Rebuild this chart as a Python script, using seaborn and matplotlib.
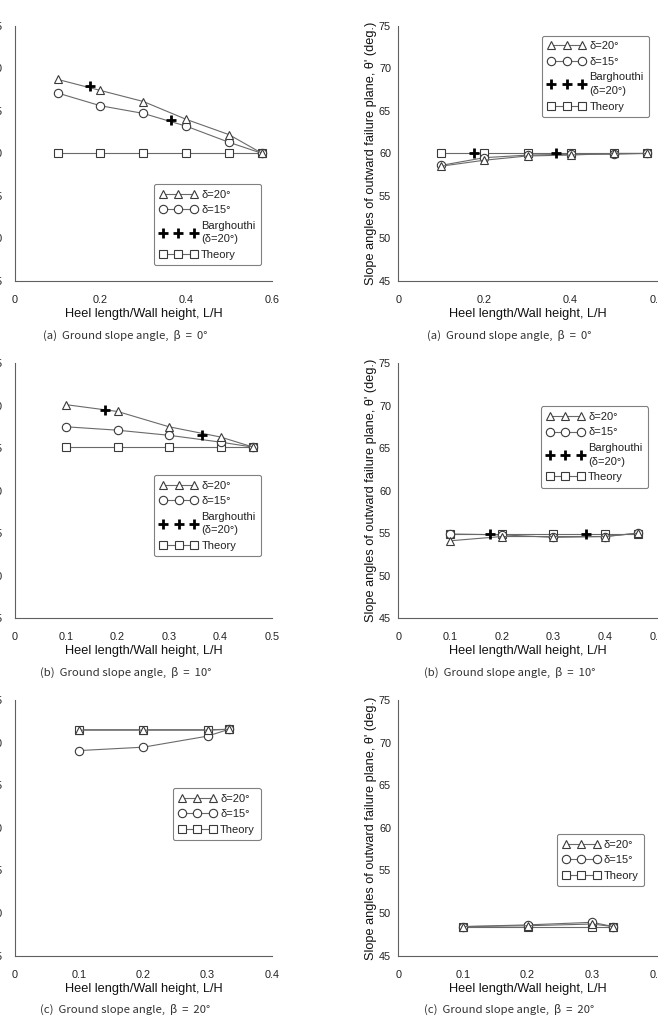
import numpy as np
import pandas as pd
import matplotlib
matplotlib.use("Agg")
import matplotlib.pyplot as plt
import seaborn as sns

# ---------------- data ----------------
# (a) beta = 0
x_a = [0.1, 0.2, 0.3, 0.4, 0.5, 0.577]
left_a_d20 = [68.7, 67.4, 66.1, 64.0, 62.2, 60.0]
left_a_d15 = [67.1, 65.6, 64.7, 63.2, 61.3, 60.0]
left_a_theory = [60.0, 60.0, 60.0, 60.0, 60.0, 60.0]
left_a_bar_x = [0.175, 0.364]
left_a_bar = [67.9, 63.9]
right_a_d20 = [58.5, 59.2, 59.7, 59.8, 60.0, 60.0]
right_a_d15 = [58.6, 59.5, 59.8, 59.9, 59.9, 60.0]
right_a_theory = [60.0, 60.0, 60.0, 60.0, 60.0, 60.0]
right_a_bar_x = [0.176, 0.366]
right_a_bar = [60.0, 60.0]

# (b) beta = 10
x_b = [0.1, 0.2, 0.3, 0.4, 0.464]
left_b_d20 = [70.1, 69.3, 67.5, 66.3, 65.1]
left_b_d15 = [67.5, 67.1, 66.5, 65.7, 65.1]
left_b_theory = [65.1, 65.1, 65.1, 65.1, 65.1]
left_b_bar_x = [0.176, 0.364]
left_b_bar = [69.5, 66.5]
right_b_d20 = [54.1, 54.6, 54.6, 54.6, 55.0]
right_b_d15 = [54.9, 54.8, 54.5, 54.6, 55.0]
right_b_theory = [54.9, 54.9, 54.9, 54.9, 54.9]
right_b_bar_x = [0.177, 0.363]
right_b_bar = [54.9, 54.9]

# (c) beta = 20
x_c = [0.1, 0.2, 0.3, 0.333]
left_c_d20 = [71.5, 71.5, 71.5, 71.6]
left_c_d15 = [69.1, 69.5, 70.8, 71.6]
left_c_theory = [71.55, 71.55, 71.55, 71.6]
right_c_d20 = [48.4, 48.5, 48.7, 48.4]
right_c_d15 = [48.4, 48.6, 48.9, 48.4]
right_c_theory = [48.4, 48.4, 48.4, 48.4]

xmax = [0.6, 0.5, 0.4]
xmajor = [0.2, 0.1, 0.1]
captions = ["(a)  Ground slope angle,  \u03b2  =  0\u00b0",
            "(b)  Ground slope angle,  \u03b2  =  10\u00b0",
            "(c)  Ground slope angle,  \u03b2  =  20\u00b0"]
lab_d20 = "\u03b4=20\u00b0"
lab_d15 = "\u03b4=15\u00b0"
lab_bar = "Barghouthi\n(\u03b4=20\u00b0)"
lab_th = "Theory"
xlabel = "Heel length/Wall height, L/H"
ylabel = "Slope angles of outward failure plane, \u03b8' (deg.)"

# ---------------- style ----------------
sns.set_style("white")
plt.rcParams['font.family'] = ['Liberation Sans', 'DejaVu Sans']

W, H = 658, 1025
fig = plt.figure(figsize=(W / 100, H / 100), dpi=100)

LINE_C = '#6a6a6a'
EDGE_C = '#3a3a3a'
AX_C = '#606060'

def px_axes(x0, x1, ytop, ybot):
    return fig.add_axes([x0 / W, 1 - ybot / H, (x1 - x0) / W, (ybot - ytop) / H])

rows_y = [(25.8, 281.0), (363.0, 618.2), (700.4, 955.5)]
left_x = (14.7, 272.0)
right_x = (398.3, 656.7)

panels = [
    # left column
    dict(col=0, row=0, x=x_a, d20=left_a_d20, d15=left_a_d15, th=left_a_theory,
         bx=left_a_bar_x, by=left_a_bar, leg=(0.541, 0.38)),
    dict(col=0, row=1, x=x_b, d20=left_b_d20, d15=left_b_d15, th=left_b_theory,
         bx=left_b_bar_x, by=left_b_bar, leg=(0.542, 0.561)),
    dict(col=0, row=2, x=x_c, d20=left_c_d20, d15=left_c_d15, th=left_c_theory,
         bx=None, by=None, leg=(0.615, 0.656)),
    # right column
    dict(col=1, row=0, x=x_a, d20=right_a_d20, d15=right_a_d15, th=right_a_theory,
         bx=right_a_bar_x, by=right_a_bar, leg=(0.557, 0.961)),
    dict(col=1, row=1, x=x_b, d20=right_b_d20, d15=right_b_d15, th=right_b_theory,
         bx=right_b_bar_x, by=right_b_bar, leg=(0.552, 0.83)),
    dict(col=1, row=2, x=x_c, d20=right_c_d20, d15=right_c_d15, th=right_c_theory,
         bx=None, by=None, leg=(0.613, 0.476)),
]

mk = dict(color=LINE_C, linewidth=0.8, markersize=6.0,
          markerfacecolor='white', markeredgecolor=EDGE_C, markeredgewidth=0.8)

for p in panels:
    xs = left_x if p['col'] == 0 else right_x
    yt, yb = rows_y[p['row']]
    ax = px_axes(xs[0], xs[1], yt, yb)
    df = pd.DataFrame({'x': p['x'], 'd20': p['d20'], 'd15': p['d15'], 'th': p['th']})

    sns.lineplot(data=df, x='x', y='th', ax=ax, marker='s', label=lab_th,
                 errorbar=None, legend=False, **mk)
    sns.lineplot(data=df, x='x', y='d15', ax=ax, marker='o', label=lab_d15,
                 errorbar=None, legend=False, **mk)
    sns.lineplot(data=df, x='x', y='d20', ax=ax, marker='^', label=lab_d20,
                 errorbar=None, legend=False, **mk)
    if p['bx'] is not None:
        dfb = pd.DataFrame({'x': p['bx'], 'y': p['by']})
        sns.lineplot(data=dfb, x='x', y='y', ax=ax, marker='+', linestyle='',
                     label=lab_bar, errorbar=None, legend=False, color='black',
                     markersize=7.5, markeredgewidth=2.0, markeredgecolor='black')

    ax.set_xlim(0, xmax[p['row']])
    ax.set_ylim(45, 75)
    ax.xaxis.set_major_locator(matplotlib.ticker.MultipleLocator(xmajor[p['row']]))
    ax.xaxis.set_minor_locator(matplotlib.ticker.MultipleLocator(xmajor[p['row']] / 2))
    ax.yaxis.set_major_locator(matplotlib.ticker.MultipleLocator(5))
    ax.yaxis.set_minor_locator(matplotlib.ticker.MultipleLocator(2.5))
    ax.xaxis.set_major_formatter(matplotlib.ticker.FuncFormatter(
        lambda v, pos: "0" if abs(v) < 1e-9 else ("%.1f" % v)))
    ax.yaxis.set_major_formatter(matplotlib.ticker.FormatStrFormatter('%d'))

    for s in ['top', 'right']:
        ax.spines[s].set_visible(False)
    for s in ['left', 'bottom']:
        ax.spines[s].set_color(AX_C)
        ax.spines[s].set_linewidth(0.8)
    ax.set_facecolor('white')

    ypad = 4.5 if p['col'] == 0 else 1.0
    ax.tick_params(axis='both', which='both', direction='out', color=AX_C,
                   width=0.7, labelsize=7.8, labelcolor='#222222')
    ax.tick_params(axis='both', which='major', length=4.2)
    ax.tick_params(axis='both', which='minor', length=4.0)
    ax.tick_params(axis='x', which='major', pad=6.0)
    ax.tick_params(axis='y', which='major', pad=ypad)

    ax.set_xlabel(xlabel, fontsize=9.2, color='#111111', labelpad=2.2)
    ax.set_ylabel(ylabel, fontsize=9.2, color='#111111', labelpad=1.2)

    handles, labels = ax.get_legend_handles_labels()
    hmap = dict(zip(labels, handles))
    order = [l for l in [lab_d20, lab_d15, lab_bar, lab_th] if l in hmap]
    leg = ax.legend([hmap[l] for l in order], order, loc='upper left',
                    bbox_to_anchor=p['leg'], borderaxespad=0, numpoints=3,
                    fontsize=8.0, handlelength=3.4, handletextpad=0.35,
                    labelspacing=0.5, borderpad=0.5, fancybox=True,
                    framealpha=1, edgecolor='#808080')
    leg.get_frame().set_linewidth(0.8)
    for t in leg.get_texts():
        t.set_color('#222222')
        t.set_linespacing(1.45)

    # caption
    cx = (xs[0] + xs[1]) / 2 - 18
    cy = yb + 54
    fig.text(cx / W, 1 - cy / H, captions[p['row']], ha='center', va='center',
             fontsize=8.2, color='#333333',
             family=['Noto Sans CJK KR', 'DejaVu Sans'])

fig.savefig("out.png", dpi=100, facecolor='white')
